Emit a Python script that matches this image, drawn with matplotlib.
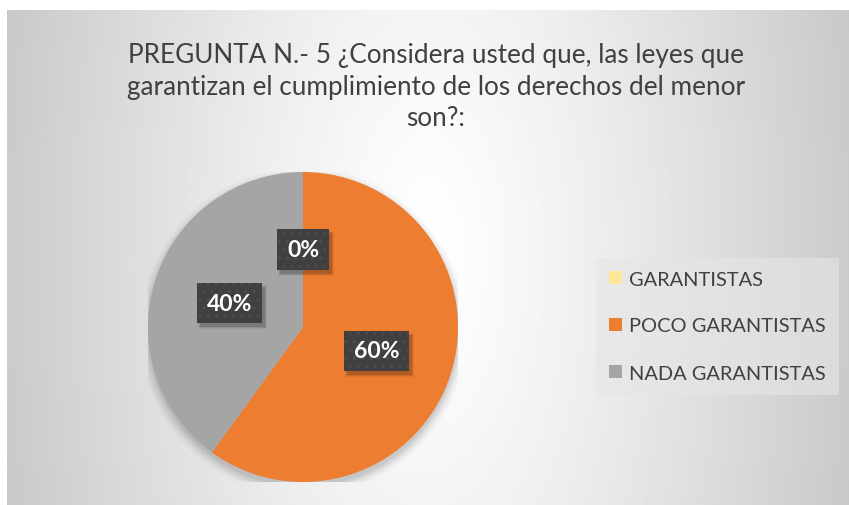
import matplotlib
matplotlib.use('Agg')
import numpy as np
import matplotlib.pyplot as plt
from matplotlib.patches import Patch, Circle, Rectangle
from matplotlib.transforms import IdentityTransform

categories = ["GARANTISTAS", "POCO GARANTISTAS", "NADA GARANTISTAS"]
values = [0, 60, 40]
colors = ["#FFE699", "#ED7D31", "#A5A5A5"]
title = "PREGUNTA N.- 5 ¿Considera usted que, las leyes que\ngarantizan el cumplimiento de los derechos del menor\nson?:"

plt.rcParams['font.family'] = ['Lato', 'DejaVu Sans']
plt.rcParams['hatch.color'] = '#555555'

W, H = 849, 506
fig = plt.figure(figsize=(W / 100, H / 100), dpi=100)
fig.patch.set_facecolor('white')

# chart area background (radial gray gradient)
bg = fig.add_axes([7 / W, 0, 842 / W, 495 / H])
bg.set_axis_off()
xx, yy = np.meshgrid(np.linspace(-1, 1, 400), np.linspace(-1, 1, 300))
d = np.sqrt(xx ** 2 + (yy / 3.7) ** 2)
shade = (255 - 52 * d ** 1.2) / 255.0
bg.imshow(shade, cmap='gray', vmin=0, vmax=1, aspect='auto', extent=[0, 1, 0, 1])

fig.text(436 / W, 1 - 87 / H, title, ha='center', va='center', fontsize=18.8,
         color='#404040', linespacing=1.33)

# pie
cx, cy, r = 303, 328, 155
ax = fig.add_axes([(cx - r) / W, (H - cy - r) / H, 2 * r / W, 2 * r / H])
ax.set_axis_off()

# soft shadow
for i, a in enumerate(np.linspace(0.05, 0.012, 6)):
    ax.add_patch(Circle((0.0, -0.03), 1.0 + 0.012 * i, color='black', alpha=a, lw=0, zorder=0))

wedges, texts, autotexts = ax.pie(values, colors=colors, startangle=90, counterclock=False,
                                  autopct='%1.0f%%', pctdistance=0.5, radius=1,
                                  wedgeprops=dict(linewidth=0))
ax.set_xlim(-1, 1)
ax.set_ylim(-1, 1)

for t in autotexts:
    t.set_color('white')
    t.set_fontsize(16.5)
    t.set_fontweight('bold')
    t.set_zorder(5)
    t.set_bbox(dict(boxstyle='square,pad=0.42', facecolor='#404040', edgecolor='#4d4d4d',
                    hatch='..', linewidth=0))

# drop shadows behind the label boxes
fig.canvas.draw()
for t in autotexts:
    ext = t.get_bbox_patch().get_window_extent()
    for k, a in enumerate([0.14, 0.09, 0.05]):
        sh = Rectangle((ext.x0 + 3 - k, ext.y0 - 4 - k), ext.width + 2 * k, ext.height + 2 * k,
                       transform=IdentityTransform(), facecolor='black', alpha=a,
                       linewidth=0, zorder=4)
        ax.add_artist(sh)

handles = [Patch(facecolor=c, edgecolor='none') for c in colors]
leg = fig.legend(handles, categories, loc='center left', bbox_to_anchor=(596 / W, 1 - 327 / H),
                 borderaxespad=0, frameon=True, fancybox=False, fontsize=14.4, labelspacing=1.5,
                 handlelength=0.65, handleheight=0.65, handletextpad=0.35, borderpad=0.65,
                 labelcolor='#404040')
leg.get_frame().set_facecolor('#e6e6e6')
leg.get_frame().set_alpha(0.6)
leg.get_frame().set_linewidth(0)

plt.savefig('out.png', dpi=100)
